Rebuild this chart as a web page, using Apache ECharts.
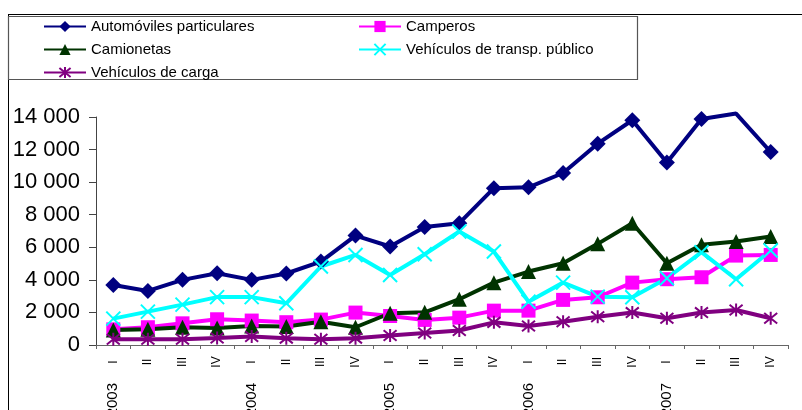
<!DOCTYPE html>
<html><head><meta charset="utf-8">
<script src="https://cdn.jsdelivr.net/npm/echarts@6/dist/echarts.min.js"></script>
<style>html,body{margin:0;padding:0;background:#fff}#c{width:802px;height:410px}</style>
</head><body><div id="c"></div>
<script>
const years = ['2003', '2004', '2005', '2006', '2007'];
const quarters = ['I', 'II', 'III', 'IV'];
const seriesNames = ['Automóviles particulares', 'Camperos', 'Camionetas', 'Vehículos de transp. público', 'Vehículos de carga'];
const automoviles = [3690, 3320, 4000, 4410, 4000, 4390, 5120, 6720, 6050, 7240, 7480, 9630, 9680, 10560, 12360, 13800, 11210, 13880, 14210, 11850];
const camperos = [960, 1090, 1330, 1580, 1500, 1400, 1560, 1990, 1780, 1540, 1680, 2110, 2110, 2770, 2930, 3830, 4040, 4160, 5490, 5530];
const camionetas = [920, 960, 1090, 1040, 1170, 1140, 1430, 1090, 1950, 2010, 2810, 3830, 4510, 5020, 6210, 7480, 5020, 6150, 6350, 6660];
const transpPublico = [1620, 2050, 2480, 2940, 2940, 2560, 4820, 5530, 4300, 5570, 6970, 5740, 2660, 3830, 2970, 2930, 4100, 5700, 4040, 5800];
const carga = [350, 350, 350, 430, 520, 420, 350, 420, 580, 740, 890, 1390, 1170, 1430, 1740, 1990, 1640, 1990, 2150, 1640];
const automovilesSinMarcador = [18];

const qCats = [];
const yCats = [];
years.forEach(y => quarters.forEach((q, i) => { qCats.push(q); yCats.push(i === 0 ? y : ''); }));

const fmt = v => String(v).replace(/\B(?=(\d{3})+(?!\d))/g, ' ');
const FONT = '"Liberation Sans", Arial, sans-serif';
const XPATH = 'path://M0,0L10,10M10,0L0,10';
const STAR = 'path://M0,0L10,10M10,0L0,10M5,-1.2L5,11.2';

function mk(name, data, color, symbol, size, stroke) {
  return {
    name, type: 'line', data, clip: false, xAxisIndex: 0, yAxisIndex: 0,
    symbol, symbolSize: size, showSymbol: true,
    lineStyle: { color, width: 4 },
    itemStyle: stroke ? { color, borderColor: color, borderWidth: 2 } : { color, borderColor: color, borderWidth: 0 },
    emphasis: { disabled: true },
    animation: false
  };
}

const autoData = automoviles.map((v, i) => automovilesSinMarcador.includes(i) ? { value: v, symbol: 'none' } : v);

const chart = echarts.init(document.getElementById('c'), null, { renderer: 'canvas' });
chart.setOption({
  animation: false,
  backgroundColor: '#fff',
  textStyle: { fontFamily: FONT },
  graphic: [
    { type: 'line', shape: { x1: 8, y1: 14.5, x2: 802, y2: 14.5 }, style: { stroke: '#000', lineWidth: 1 } },
    { type: 'line', shape: { x1: 8.5, y1: 14, x2: 8.5, y2: 410 }, style: { stroke: '#000', lineWidth: 1 } },
    { type: 'rect', shape: { x: 8.5, y: 16.5, width: 629, height: 63 }, style: { fill: 'none', stroke: '#555', lineWidth: 1.2 } }
  ],
  legend: [
    { data: [seriesNames[0], seriesNames[2], seriesNames[4]], orient: 'vertical', left: 43, top: 19, padding: 0,
      itemWidth: 42, itemHeight: 14, itemGap: 8, textStyle: { fontSize: 15, color: '#000', fontFamily: FONT } },
    { data: [seriesNames[1], seriesNames[3]], orient: 'vertical', left: 358, top: 19, padding: 0,
      itemWidth: 42, itemHeight: 14, itemGap: 8, textStyle: { fontSize: 15, color: '#000', fontFamily: FONT } }
  ],
  grid: [
    { left: 96, right: 14, top: 117, bottom: 65, containLabel: false, outerBoundsMode: 'none' },
    { left: 96, right: 14, top: 117, bottom: 65, containLabel: false, outerBoundsMode: 'none' }
  ],
  xAxis: [
    { type: 'category', gridIndex: 0, data: qCats, boundaryGap: true,
      axisLine: { lineStyle: { color: '#666', width: 1 } },
      axisTick: { show: true, length: 4, interval: 0, lineStyle: { color: '#666' } },
      axisLabel: { interval: 0, rotate: 90, align: 'center', margin: 17, fontSize: 12, color: '#000', fontFamily: FONT },
      splitLine: { show: false } },
    { type: 'category', gridIndex: 1, data: yCats, boundaryGap: true, position: 'bottom',
      axisLine: { show: false }, axisTick: { show: false },
      axisLabel: { interval: 0, rotate: 90, margin: 38, fontSize: 15, color: '#000', fontFamily: FONT },
      splitLine: { show: false } }
  ],
  yAxis: [
    { type: 'value', gridIndex: 0, min: 0, max: 14000, interval: 2000,
      axisLine: { show: true, lineStyle: { color: '#444', width: 1 } },
      axisTick: { show: true, length: 7, lineStyle: { color: '#444' } },
      axisLabel: { formatter: fmt, fontSize: 22, color: '#000', margin: 16, fontFamily: FONT },
      splitLine: { show: false } },
    { type: 'value', gridIndex: 1, min: 0, max: 14000, show: false, splitLine: { show: false } }
  ],
  series: [
    mk(seriesNames[0], autoData, '#000080', 'diamond', 16, false),
    mk(seriesNames[1], camperos, '#FF00FF', 'rect', 14, false),
    mk(seriesNames[2], camionetas, '#003300', 'triangle', 15, false),
    mk(seriesNames[3], transpPublico, '#00FFFF', XPATH, 14, true),
    mk(seriesNames[4], carga, '#800080', STAR, 13, true)
  ]
});
</script>
</body></html>
